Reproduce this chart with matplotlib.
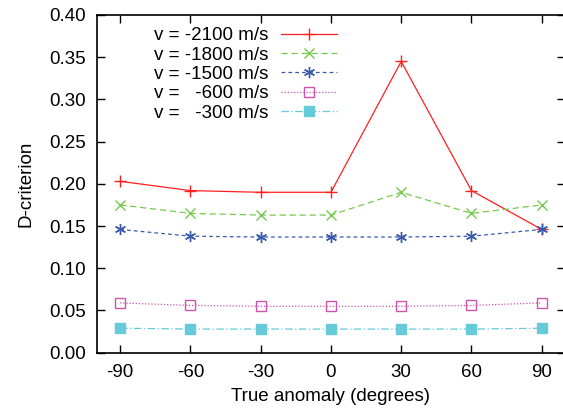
import numpy as np
import matplotlib
matplotlib.use('Agg')
import matplotlib.pyplot as plt

plt.rcParams['font.family'] = ['Liberation Sans', 'DejaVu Sans']
plt.rcParams['axes.unicode_minus'] = False

anomaly = [-90, -60, -30, 0, 30, 60, 90]
v2100 = [0.203, 0.192, 0.190, 0.190, 0.345, 0.192, 0.146]
v1800 = [0.175, 0.165, 0.163, 0.163, 0.190, 0.165, 0.175]
v1500 = [0.146, 0.138, 0.137, 0.137, 0.137, 0.138, 0.146]
v600 = [0.059, 0.056, 0.055, 0.055, 0.055, 0.056, 0.059]
v300 = [0.029, 0.028, 0.028, 0.028, 0.028, 0.028, 0.029]
labels = ['v = -2100 m/s', 'v = -1800 m/s', 'v = -1500 m/s',
          'v =   -600 m/s', 'v =   -300 m/s']

fig = plt.figure(figsize=(5.63, 4.13), dpi=100)
ax = fig.add_axes([0.1718, 0.146, 0.832, 0.8177])

lw = 0.9
ax.plot(anomaly, v2100, color='#ff2020', ls='-', lw=lw, marker='+', ms=8, mew=1, label=labels[0])
ax.plot(anomaly, v1800, color='#77c94e', ls=(0, (5, 3)), lw=lw, marker='x', ms=7, mew=1, label=labels[1])
ax.plot(anomaly, v1500, color='#3a5bab', ls=(0, (3, 2.5)), lw=lw, marker=(6, 2, 0), ms=8, mew=1, label=labels[2])
ax.plot(anomaly, v600, color='#cc55aa', ls=(0, (1, 1.5)), lw=lw, marker='s', ms=7, mfc='none', mew=1, label=labels[3])
ax.plot(anomaly, v300, color='#66cad9', ls=(0, (6, 2, 1, 2)), lw=lw, marker='s', ms=7, label=labels[4])

ax.set_xlim(-100, 100)
ax.set_ylim(0, 0.40)
ax.set_xticks(anomaly)
ax.set_yticks(np.arange(0, 0.41, 0.05))
ax.set_yticklabels(['%.2f' % t for t in np.arange(0, 0.41, 0.05)])
ax.tick_params(direction='in', length=6, width=1, top=True, right=True, labelsize=13.5, pad=8)
for s in ax.spines.values():
    s.set_linewidth(1.2)

ax.set_xlabel('True anomaly (degrees)', fontsize=13.5, labelpad=5)
ax.set_ylabel('D-criterion', fontsize=13.5, labelpad=10)

leg = ax.legend(loc='upper left', bbox_to_anchor=(0.122, 0.964), frameon=False,
                markerfirst=False, fontsize=13.5, handlelength=2.95, handletextpad=0.7,
                labelspacing=0.12, borderpad=0, borderaxespad=0)

fig.savefig('out.png', dpi=100)
